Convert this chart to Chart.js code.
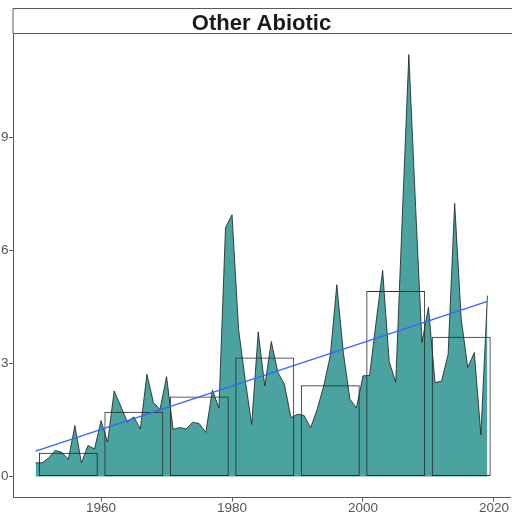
<!DOCTYPE html>
<html>
<head>
<meta charset="utf-8">
<script src="https://cdn.jsdelivr.net/npm/chart.js@4/dist/chart.umd.min.js"></script>
<style>
html,body{margin:0;padding:0;background:#fff;overflow:hidden;}
#wrap{width:512px;height:514px;position:relative;}
</style>
</head>
<body>
<div id="wrap"><canvas id="c" width="512" height="514"></canvas></div>
<script>
const title = "Other Abiotic";
const years = [1950,1951,1952,1953,1954,1955,1956,1957,1958,1959,
  1960,1961,1962,1963,1964,1965,1966,1967,1968,1969,
  1970,1971,1972,1973,1974,1975,1976,1977,1978,1979,
  1980,1981,1982,1983,1984,1985,1986,1987,1988,1989,
  1990,1991,1992,1993,1994,1995,1996,1997,1998,1999,
  2000,2001,2002,2003,2004,2005,2006,2007,2008,2009,
  2010,2011,2012,2013,2014,2015,2016,2017,2018,2019];
const values = [0.36,0.36,0.49,0.69,0.64,0.45,1.35,0.36,0.82,0.73,
  1.48,0.91,2.27,1.87,1.45,1.58,1.26,2.71,1.96,1.78,
  2.65,1.25,1.30,1.26,1.44,1.40,1.17,2.29,1.82,6.60,
  6.95,3.91,2.58,1.38,3.84,2.40,3.58,2.76,2.45,1.56,
  1.65,1.62,1.29,1.78,2.40,3.20,5.09,3.29,2.05,1.82,
  2.67,2.68,4.10,5.47,3.05,2.50,6.90,11.20,7.30,3.56,
  4.49,2.49,2.53,3.24,7.25,4.18,2.89,3.29,1.11,4.80];
const decadeMids = [1955,1965,1975,1985,1995,2005,2015];
const decadeMeans = [0.63,1.72,2.12,3.16,2.42,4.92,3.71];
const trendYears = [1950,2019];
const trendValues = [0.67,4.65];
const xTicks = [1960,1980,2000,2020];
const yTicks = [0,3,6,9];

const axisColor = '#5a5a5a';
const tickText = '#555555';
const FONT = "'Liberation Sans', Arial, sans-serif";

const stripPlugin = {
  id: 'strip',
  afterDraw(chart) {
    const ctx = chart.ctx;
    const a = chart.chartArea;
    ctx.save();
    ctx.fillStyle = '#ffffff';
    ctx.strokeStyle = axisColor;
    ctx.lineWidth = 1;
    ctx.fillRect(a.left, 8, 600, a.top - 8);
    ctx.beginPath();
    ctx.moveTo(a.left, a.top);
    ctx.lineTo(a.left, 8.5);
    ctx.lineTo(620, 8.5);
    ctx.moveTo(a.left, a.top);
    ctx.lineTo(620, a.top);
    ctx.stroke();
    ctx.fillStyle = '#1a1a1a';
    ctx.font = "bold 22px " + FONT;
    ctx.textAlign = 'center';
    ctx.textBaseline = 'alphabetic';
    ctx.fillText(title, (a.left + a.right) / 2, 29.5);
    ctx.restore();
  }
};

new Chart(document.getElementById('c'), {
  type: 'line',
  data: {
    datasets: [
      {
        type: 'line',
        label: 'trend',
        data: trendYears.map((x, i) => ({x: x, y: trendValues[i]})),
        borderColor: '#3366FF',
        borderWidth: 1.3,
        pointRadius: 0,
        fill: false,
        order: 1
      },
      {
        type: 'bar',
        label: 'decade',
        data: decadeMids.map((x, i) => ({x: x, y: decadeMeans[i]})),
        backgroundColor: 'rgba(0,0,0,0)',
        borderColor: '#2a2a2a',
        borderWidth: 1,
        borderSkipped: false,
        barPercentage: 0.9,
        categoryPercentage: 1.0,
        order: 2
      },
      {
        type: 'line',
        label: 'values',
        data: years.map((x, i) => ({x: x, y: values[i]})),
        borderColor: '#1a1a1a',
        borderWidth: 0.8,
        backgroundColor: '#4aa39e',
        fill: 'origin',
        pointRadius: 0,
        tension: 0,
        order: 3
      }
    ]
  },
  options: {
    responsive: false,
    animation: false,
    events: [],
    layout: {padding: {top: 33.5, right: 2, left: 0, bottom: 0}},
    plugins: {legend: {display: false}, tooltip: {enabled: false}},
    scales: {
      x: {
        type: 'linear',
        offset: false,
        min: 1946.55,
        max: 2022.45,
        afterBuildTicks: s => { s.ticks = xTicks.map(v => ({value: v})); },
        afterFit: s => { s.height = 16.5; },
        border: {display: true, color: axisColor, width: 1},
        grid: {offset: false, drawOnChartArea: false, drawTicks: true, tickLength: 4, color: axisColor},
        ticks: {color: tickText, font: {family: FONT, size: 13.5}, padding: -1, maxRotation: 0, autoSkip: false,
          callback: v => String(v)}
      },
      y: {
        type: 'linear',
        min: -0.56,
        max: 11.76,
        afterBuildTicks: s => { s.ticks = yTicks.map(v => ({value: v})); },
        afterFit: s => { s.width = 13; },
        border: {display: true, color: axisColor, width: 1},
        grid: {offset: false, drawOnChartArea: false, drawTicks: true, tickLength: 4, color: axisColor},
        ticks: {color: tickText, font: {family: FONT, size: 13.5}, padding: 0.5, autoSkip: false,
          callback: v => String(v)}
      }
    }
  },
  plugins: [stripPlugin]
});
</script>
</body>
</html>
